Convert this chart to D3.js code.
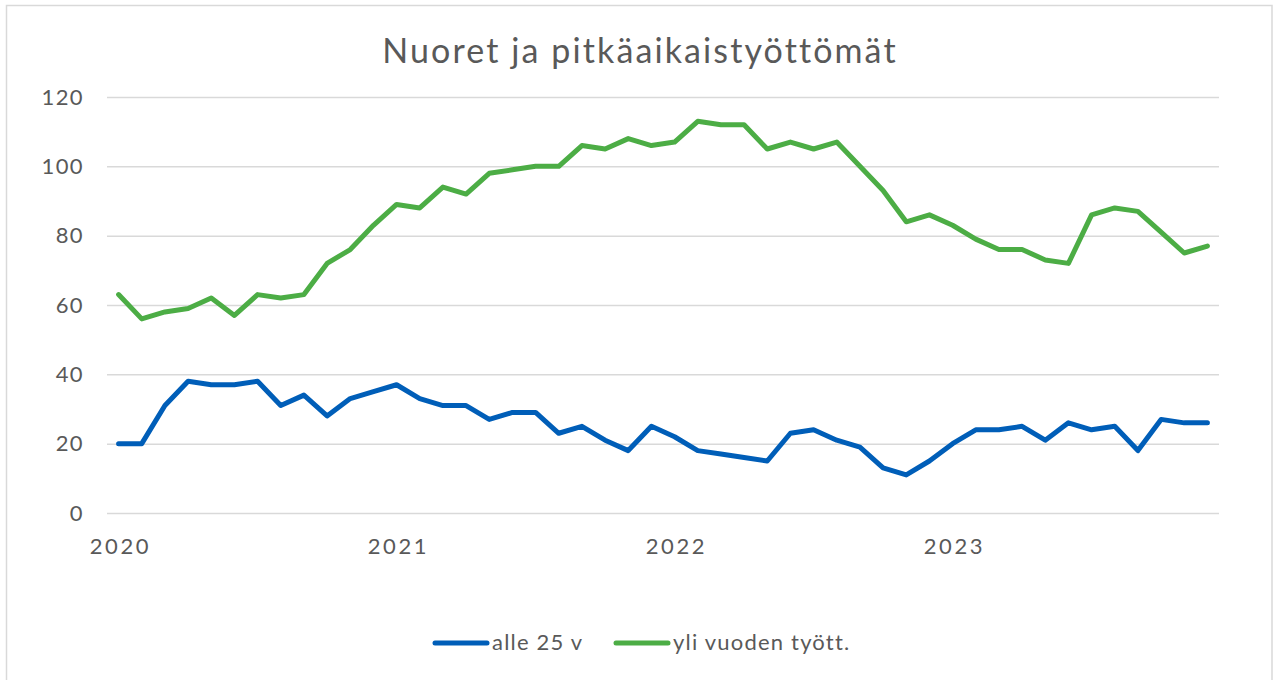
<!DOCTYPE html>
<html>
<head>
<meta charset="utf-8">
<script src="https://cdn.jsdelivr.net/npm/d3@7"></script>
<style>
  html, body { margin: 0; padding: 0; background: #ffffff; }
  svg { display: block; }
  text { font-family: Lato, "Noto Sans", sans-serif; fill: #595959; }
</style>
</head>
<body>
<svg id="chart" width="1273" height="680"></svg>
<script>
// ---- data ----
const years = ["2020", "2021", "2022", "2023"];
const months = [];
years.forEach(yr => { for (let m = 1; m <= 12; m++) months.push(yr + "-" + String(m).padStart(2, "0")); });

const alle25 = [
  20, 20, 31, 38, 37, 37, 38, 31, 34, 28, 33, 35,
  37, 33, 31, 31, 27, 29, 29, 23, 25, 21, 18, 25,
  22, 18, 17, 16, 15, 23, 24, 21, 19, 13, 11, 15,
  20, 24, 24, 25, 21, 26, 24, 25, 18, 27, 26, 26
];
const yliVuoden = [
  63, 56, 58, 59, 62, 57, 63, 62, 63, 72, 76, 83,
  89, 88, 94, 92, 98, 99, 100, 100, 106, 105, 108, 106,
  107, 113, 112, 112, 105, 107, 105, 107, 100, 93, 84, 86,
  83, 79, 76, 76, 73, 72, 86, 88, 87, 81, 75, 77
];
const yTicks = [0, 20, 40, 60, 80, 100, 120];
const xTickMonths = ["2020-01", "2021-01", "2022-01", "2023-01"];
const chartTitle = "Nuoret ja pitkäaikaistyöttömät";
const seriesNames = ["alle 25 v", "yli vuoden tyött."];
const seriesColors = ["#005EB8", "#4CAD45"];

// ---- layout ----
const svg = d3.select("#chart");
const plotL = 107, plotR = 1219, plotT = 97, plotB = 513;

// chart border
svg.append("rect")
  .attr("x", 6.5).attr("y", 5.5)
  .attr("width", 1265.5).attr("height", 700)
  .attr("fill", "#ffffff")
  .attr("stroke", "#d9d9d9").attr("stroke-width", 1.5);

const xScale = d3.scalePoint().domain(months).range([plotL, plotR]).padding(0.5);
const yScale = d3.scaleLinear().domain([0, 120]).range([plotB, plotT]);

// gridlines + y labels
const yAxis = svg.append("g")
  .attr("transform", `translate(${plotL},0)`)
  .call(d3.axisLeft(yScale).tickValues(yTicks).tickSize(-(plotR - plotL)).tickPadding(23));
yAxis.select(".domain").remove();
yAxis.selectAll(".tick line").attr("stroke", "#d9d9d9").attr("stroke-width", 1.5);
yAxis.selectAll(".tick text")
  .attr("font-size", 22).attr("fill", "#595959")
  .style("letter-spacing", "1.4px")
  .style("font-family", "Lato, 'Noto Sans', sans-serif");

// x labels
const xAxis = svg.append("g")
  .attr("transform", `translate(0,${plotB})`)
  .call(d3.axisBottom(xScale).tickValues(xTickMonths).tickSize(0).tickPadding(25)
    .tickFormat(d => d.slice(0, 4)));
xAxis.select(".domain").remove();
xAxis.selectAll(".tick text")
  .attr("font-size", 22).attr("fill", "#595959")
  .attr("dx", 1.3)
  .style("letter-spacing", "2.6px")
  .style("font-family", "Lato, 'Noto Sans', sans-serif");

// lines
const line = d3.line().x((d, i) => xScale(months[i])).y(d => yScale(d));
[alle25, yliVuoden].forEach((s, k) => {
  svg.append("path")
    .datum(s)
    .attr("fill", "none")
    .attr("stroke", seriesColors[k])
    .attr("stroke-width", 5)
    .attr("stroke-linejoin", "round")
    .attr("stroke-linecap", "round")
    .attr("d", line);
});

// title
svg.append("text")
  .attr("x", 640).attr("y", 63)
  .attr("text-anchor", "middle")
  .attr("font-size", 34)
  .style("letter-spacing", "2.1px")
  .text(chartTitle);

// legend
const legendItems = [
  { name: seriesNames[0], color: seriesColors[0], x0: 435 },
  { name: seriesNames[1], color: seriesColors[1], x0: 616 }
];
const lg = svg.append("g");
legendItems.forEach(it => {
  lg.append("line")
    .attr("x1", it.x0).attr("x2", it.x0 + 52)
    .attr("y1", 643).attr("y2", 643)
    .attr("stroke", it.color).attr("stroke-width", 5)
    .attr("stroke-linecap", "round");
  lg.append("text")
    .attr("x", it.x0 + 57).attr("y", 650)
    .attr("font-size", 22)
    .style("letter-spacing", "1.2px")
    .text(it.name);
});
</script>
</body>
</html>
